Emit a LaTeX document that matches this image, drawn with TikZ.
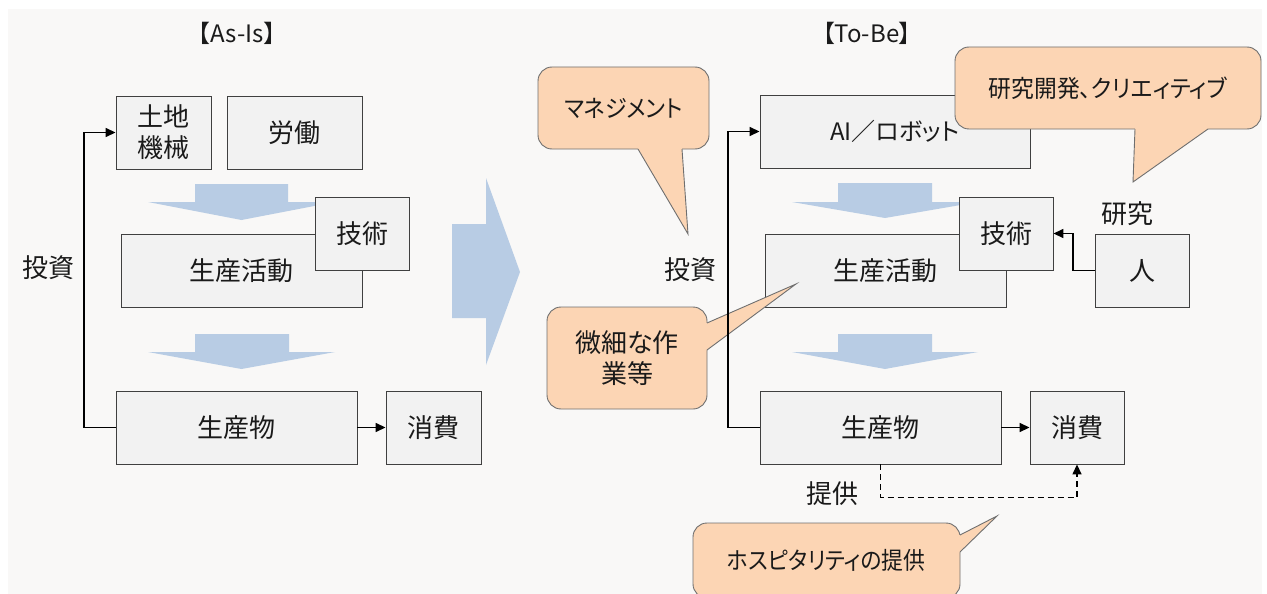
\documentclass[tikz,border=0pt]{standalone}
\usepackage{fontspec}
\setmainfont{Noto Sans CJK JP}[RawFeature={+palt}]
\usetikzlibrary{arrows.meta}
\definecolor{bgc}{HTML}{F9F8F7}
\definecolor{boxfill}{HTML}{F2F2F2}
\definecolor{boxline}{HTML}{404040}
\definecolor{blockc}{HTML}{B8CCE4}
\definecolor{callfill}{HTML}{FCD5B4}
\definecolor{callline}{HTML}{6F6F6F}
\definecolor{txt}{HTML}{1A1A1A}
\begin{document}
\begin{tikzpicture}[x=1pt,y=-1pt,
  every node/.style={font=\fontsize{26}{31}\selectfont, text=txt, inner sep=0pt},
  small/.style={font=\fontsize{24}{31}\selectfont},
  box/.style={draw=boxline, fill=boxfill, line width=0.9pt, minimum height=73pt, align=center},
  callout/.style={draw=callline, fill=callfill, line width=0.9pt, rounded corners=14pt, align=center},
  tailfill/.style={fill=callfill},
  tailline/.style={draw=callline, line width=0.9pt, line join=miter},
  blockarrow/.style={fill=blockc},
  conn/.style={draw=black, line width=1.5pt},
  arr/.style={-{Triangle[length=10pt,width=9pt]}},
  dashconn/.style={draw=black, line width=1.5pt, dash pattern=on 6pt off 4pt},
  lbl/.style={},
]
\useasboundingbox (0,0) rectangle (1267,594);
\clip (0,0) rectangle (1267,594);
\fill[bgc] (8,9) rectangle (1262,600);

% block arrows
\fill[blockarrow] (195,184) -- (288,184) -- (288,202) -- (335,202) -- (241.5,220) -- (148,202) -- (195,202) -- cycle;
\fill[blockarrow] (195,334) -- (289,334) -- (289,352) -- (335,352) -- (241.5,369) -- (148,352) -- (195,352) -- cycle;
\fill[blockarrow] (838,183) -- (932,183) -- (932,202) -- (978,202) -- (885,218) -- (792,202) -- (838,202) -- cycle;
\fill[blockarrow] (838,334) -- (932,334) -- (932,352) -- (978,352) -- (885,369) -- (792,352) -- (838,352) -- cycle;
\fill[blockarrow] (452,224) -- (486,224) -- (486,178) -- (520,272) -- (486,365) -- (486,318) -- (452,318) -- cycle;

% titles
\node[lbl, small] (tAs) at (237,33) {【As-Is】};
\node[lbl, small] (tTo) at (867,33) {【To-Be】};

% left boxes
\node[box, minimum width=95pt] (tochi) at (163.5,132.5) {土地\\機械};
\node[box, minimum width=135pt] (roudou) at (294.5,132.5) {労働};
\node[box, minimum width=241pt] (seisanA) at (241.5,270.5) {生産活動};
\node[box, minimum width=94pt] (gijutsuA) at (362,233.5) {技術};
\node[box, minimum width=241pt] (butsuA) at (236.5,427.5) {生産物};
\node[box, minimum width=95pt] (shouhiA) at (433.5,427.5) {消費};

% right boxes
\node[box, small, minimum width=270pt] (ai) at (895,131.5) {AI／ロボット};
\node[box, minimum width=241pt] (seisanB) at (885.5,270.5) {生産活動};
\node[box, minimum width=94pt] (gijutsuB) at (1006,233.5) {技術};
\node[box, minimum width=94pt] (hito) at (1142,270.5) {人};
\node[box, minimum width=241pt] (butsuB) at (880.5,427.5) {生産物};
\node[box, minimum width=94pt] (shouhiB) at (1077,427.5) {消費};

% callouts
\node[callout, small, minimum width=171pt, minimum height=82pt] (cMgmt) at (623.5,108) {\addfontfeatures{FakeStretch=0.92}マネジメント};
\fill[tailfill] (638,146) -- (638,149) -- (688,234) -- (682,149) -- (682,146) -- cycle;
\draw[tailline] (638,149) -- (688,234) -- (682,149);

\node[callout, small, minimum width=306pt, minimum height=82pt] (cRes) at (1108,88) {\addfontfeatures{FakeStretch=0.95}研究開発、クリエィティブ};
\fill[tailfill] (1135,126) -- (1135,129) -- (1133,182) -- (1208,129) -- (1208,126) -- cycle;
\draw[tailline] (1135,129) -- (1133,182) -- (1208,129);

\node[callout, minimum width=160pt, minimum height=102pt] (cFine) at (627,358) {微細な作\\業等};
\fill[tailfill] (704,323) -- (707,323) -- (796,284) -- (707,350) -- (704,350) -- cycle;
\draw[tailline] (707,323) -- (796,284) -- (707,350);

\node[callout, small, minimum width=267pt, minimum height=75pt] (cHosp) at (826.5,560.5) {\addfontfeatures{FakeStretch=0.91}ホスピタリティの提供};
\fill[tailfill] (957,535) -- (960,535) -- (997,516) -- (960,552) -- (957,552) -- cycle;
\draw[tailline] (960,535) -- (997,516) -- (960,552);

% connectors
\coordinate (invA) at (84,0);
\coordinate (invB) at (728,0);
\coordinate (resX) at (1073,0);
\draw[conn, arr] (butsuA.west) -- (butsuA.west -| invA) |- (tochi.west);
\draw[conn, arr] (butsuA.east) -- (shouhiA.west);
\draw[conn, arr] (butsuB.west) -- (butsuB.west -| invB) |- (ai.west);
\draw[conn, arr] (butsuB.east) -- (shouhiB.west);
\draw[conn, arr] (hito.west) -- (hito.west -| resX) |- (gijutsuB.east);
\draw[dashconn, arr] (butsuB.south) -- ++(0,33) -| (shouhiB.south);

% labels
\node[lbl] (lInvA) at (48,268) {投資};
\node[lbl] (lInvB) at (690,270) {投資};
\node[lbl] (lRes) at (1127,214) {研究};
\node[lbl] (lProv) at (832,494) {提供};
\end{tikzpicture}
\end{document}
